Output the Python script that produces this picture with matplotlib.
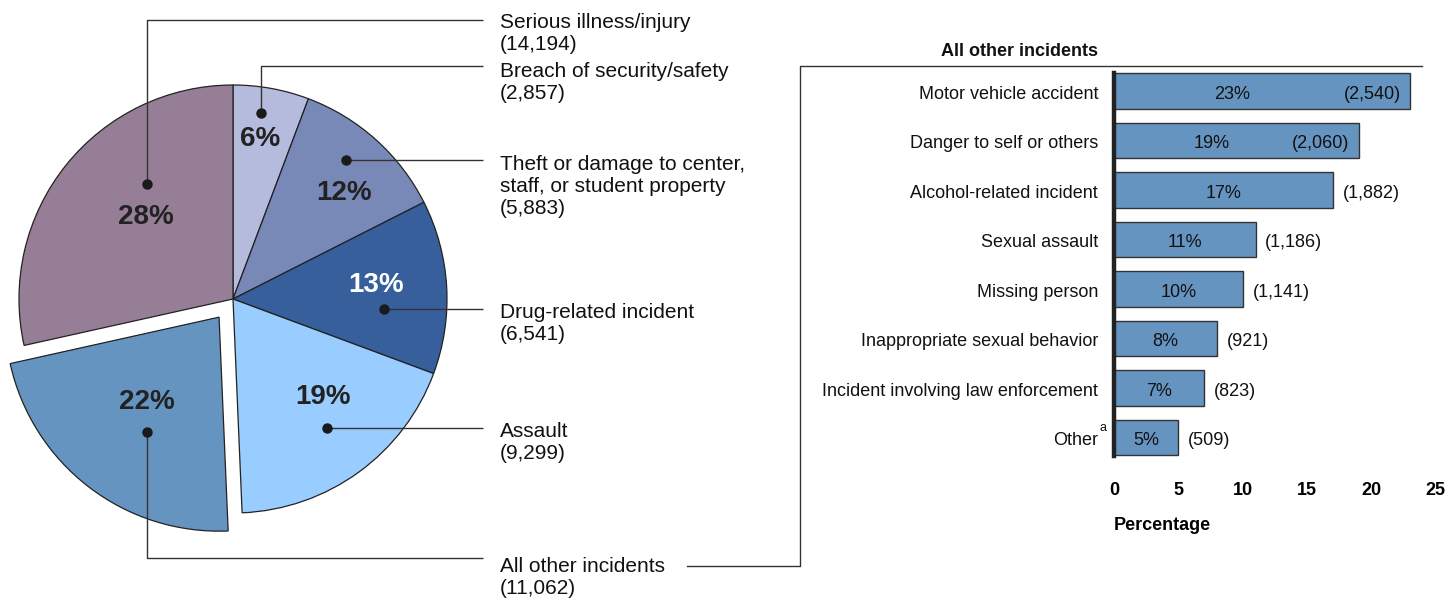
import numpy as np
import matplotlib
matplotlib.use("Agg")
import matplotlib.pyplot as plt

plt.rcParams["font.family"] = ["Liberation Sans", "DejaVu Sans"]

# pie data (clockwise from 12 o'clock)
pie_labels = ["Breach of security/safety", "Theft or damage to center,\nstaff, or student property",
              "Drug-related incident", "Assault", "All other incidents", "Serious illness/injury"]
pie_counts = [2857, 5883, 6541, 9299, 11062, 14194]
pie_colors = ["#b5bbdc", "#7889b8", "#365f9c", "#99ccff", "#6694c0", "#967e96"]

# bar data
bar_labels = ["Motor vehicle accident", "Danger to self or others", "Alcohol-related incident",
              "Sexual assault", "Missing person", "Inappropriate sexual behavior",
              "Incident involving law enforcement", "Other"]
bar_pct = [23, 19, 17, 11, 10, 8, 7, 5]
bar_counts = [2540, 2060, 1882, 1186, 1141, 921, 823, 509]

W, H = 1449, 598
fig = plt.figure(figsize=(W / 100, H / 100), dpi=100)

# ---- pie ----
cx, cy, R = 233, 299, 214
half = 240
axp = fig.add_axes([(cx - half) / W, (H - cy - half) / H, 2 * half / W, 2 * half / H])
explode = [0, 0, 0, 0, 0.107, 0]
axp.pie(pie_counts, startangle=90, counterclock=False, colors=pie_colors, explode=explode,
        wedgeprops=dict(edgecolor="#222222", linewidth=0.9))
axp.set_xlim(-half / R, half / R)
axp.set_ylim(-half / R, half / R)
axp.set_aspect("equal")
axp.axis("off")

# ---- bars ----
x0, x25 = 1114, 1435.75
yc0, step = 91, 49.5
top = yc0 - 0.5 * step
bot = yc0 + 7.5 * step
axb = fig.add_axes([x0 / W, (H - bot) / H, (x25 - x0) / W, (bot - top) / H])
y = np.arange(len(bar_pct))
axb.barh(y, bar_pct, height=0.727, color="#6694c0", edgecolor="#333333", linewidth=1.0, zorder=2)
axb.set_xlim(0, 25)
axb.set_ylim(7.5, -0.5)
axb.set_yticks(y)
axb.set_yticklabels([])
axb.set_xticks([0, 5, 10, 15, 20, 25])
axb.tick_params(axis="both", length=0)
axb.tick_params(axis="x", pad=14)
for t in axb.get_xticklabels():
    t.set_fontsize(13)
    t.set_fontweight("bold")
axb.set_xlabel("Percentage", fontsize=13, fontweight="bold", loc="left", labelpad=13)
for s in ["top", "right", "bottom"]:
    axb.spines[s].set_visible(False)
axb.spines["left"].set_linewidth(3.2)
axb.spines["left"].set_color("#222222")
axb.spines["left"].set_bounds(-0.365, 7.365)
axb.spines["left"].set_zorder(3)

dy = -2.5  # text sits a little below bar centre in the original
for i, (name, p, c) in enumerate(zip(bar_labels, bar_pct, bar_counts)):
    axb.annotate(name, (0, i), xycoords=("axes fraction", "data"), xytext=(-11.5, dy),
                 textcoords="offset points", ha="right", va="center", fontsize=13, color="#111111")
    inside = p >= 18
    px = p * 0.4 if inside else p / 2
    axb.annotate(f"{p}%", (px, i), xytext=(0, dy), textcoords="offset points",
                 ha="center", va="center", fontsize=13, color="#111111", zorder=4)
    if inside:
        axb.annotate(f"({c:,})", (p, i), xytext=(-6.5, dy), textcoords="offset points",
                     ha="right", va="center", fontsize=13, color="#111111", zorder=4)
    else:
        axb.annotate(f"({c:,})", (p, i), xytext=(7, dy), textcoords="offset points",
                     ha="left", va="center", fontsize=13, color="#111111", zorder=4)
axb.annotate("a", (0, 7), xycoords=("axes fraction", "data"), xytext=(-8, 7),
             textcoords="offset points", ha="center", va="center", fontsize=9, color="#111111")

# ---- overlay for leader lines and labels (pixel coords) ----
ov = fig.add_axes([0, 0, 1, 1])
ov.set_xlim(0, W)
ov.set_ylim(H, 0)
ov.axis("off")

lc = "#333333"
lw = 1.0
# dot position, leader path, text top for each pie slice
dots = [(261, 113), (346, 160), (384, 309), (327, 428), (147, 432), (147, 184)]
paths = [
    [(261, 113), (261, 66), (483, 66)],
    [(346, 160), (483, 160)],
    [(384, 309), (483, 309)],
    [(327, 428), (483, 428)],
    [(147, 432), (147, 558), (483, 558)],
    [(147, 184), (147, 19.5), (483, 19.5)],
]
text_top = [62, 155, 303, 422, 557, 13.5]
pct_pos = [(260, 139), (344, 193), (376, 285), (323, 397), (147, 402), (146, 217)]
pct_color = ["#222222", "#222222", "white", "#222222", "#222222", "#222222"]

total = sum(pie_counts)
for i in range(len(pie_counts)):
    xs, ys = zip(*paths[i])
    ov.plot(xs, ys, color=lc, lw=lw, solid_capstyle="butt")
    ov.plot(*dots[i], "o", color="#1a1a1a", ms=6.5, zorder=5)
    ov.text(500, text_top[i], f"{pie_labels[i]}\n({pie_counts[i]:,})", ha="left", va="top",
            fontsize=15, color="#111111", linespacing=1.2)
    ov.text(pct_pos[i][0], pct_pos[i][1], f"{pie_counts[i] / total * 100:.0f}%", ha="center",
            va="center", fontsize=20, fontweight="bold", color=pct_color[i])

# connector from pie to bar panel
ov.plot([687, 800, 800, 1422], [566, 566, 66, 66], color=lc, lw=lw)
ov.text(1098, 51, "All other incidents", ha="right", va="center", fontsize=13,
        fontweight="bold", color="#111111")

fig.savefig("out.png", dpi=100)
